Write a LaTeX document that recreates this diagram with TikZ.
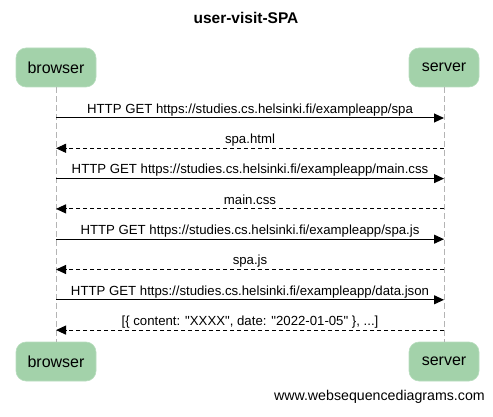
\documentclass[tikz,border=0pt]{standalone}
\usepackage{fontspec}
\setmainfont{Liberation Sans}[Ligatures=TeXOff]
\usetikzlibrary{arrows.meta}
\definecolor{actorfill}{HTML}{A3D2AA}
\definecolor{actoredge}{HTML}{B8DDBE}
\definecolor{lifegray}{HTML}{B4B4B4}
\tikzset{
  actor/.style={rectangle, rounded corners=10pt, fill=actorfill, draw=actoredge, line width=0.6pt,
    minimum height=39pt, inner sep=0pt, font=\fontsize{16}{18}\selectfont},
  life/.style={draw=lifegray, line width=0.8pt, dash pattern=on 6pt off 3pt},
  req/.style={draw=black, line width=1pt, -{Triangle[length=10pt,width=9pt]}},
  resp/.style={req, dash pattern=on 4pt off 3pt},
  lbl/.style={anchor=base, yshift=4.7pt, inner sep=0pt, font=\fontsize{13.2}{15}\selectfont},
}
\begin{document}
\begin{tikzpicture}[x=1pt,y=-1pt]
\useasboundingbox (0,0) rectangle (493,417);
\node[font=\bfseries\fontsize{15.5}{18}\selectfont, anchor=base] (title) at (246,24) {user-visit-SPA};
\node[actor, minimum width=80pt] (bt) at (56,67.5) {browser};
\node[actor, minimum width=70pt] (st) at (444,67.5) {server};
\node[actor, minimum width=80pt] (bb) at (56,361.5) {browser};
\node[actor, minimum width=70pt] (sb) at (444,361.5) {server};
\draw[life] (bt.south) -- (bb.north);
\draw[life] (st.south) -- (sb.north);
\foreach \i/\y in {1/118,2/148.3,3/178.6,4/208.9,5/239.2,6/269.5,7/299.8,8/330.1}{
  \coordinate (b\i) at (bt |- 0,\y);
  \coordinate (s\i) at (st |- 0,\y);
}
\draw[req] (b1) -- node[lbl]{HTTP GET https://studies.cs.helsinki.fi/exampleapp/spa} (s1);
\draw[resp] (s2) -- node[lbl]{spa.html} (b2);
\draw[req] (b3) -- node[lbl]{HTTP GET https://studies.cs.helsinki.fi/exampleapp/main.css} (s3);
\draw[resp] (s4) -- node[lbl]{main.css} (b4);
\draw[req] (b5) -- node[lbl]{HTTP GET https://studies.cs.helsinki.fi/exampleapp/spa.js} (s5);
\draw[resp] (s6) -- node[lbl]{spa.js} (b6);
\draw[req] (b7) -- node[lbl]{HTTP GET https://studies.cs.helsinki.fi/exampleapp/data.json} (s7);
\draw[resp] (s8) -- node[lbl]{[\{ content: "XXXX", date: "2022-01-05" \}, ...]} (b8);
\node[anchor=base east, inner sep=0pt, font=\fontsize{14.2}{16}\selectfont] (footer) at (485,400) {www.websequencediagrams.com};
\end{tikzpicture}
\end{document}
